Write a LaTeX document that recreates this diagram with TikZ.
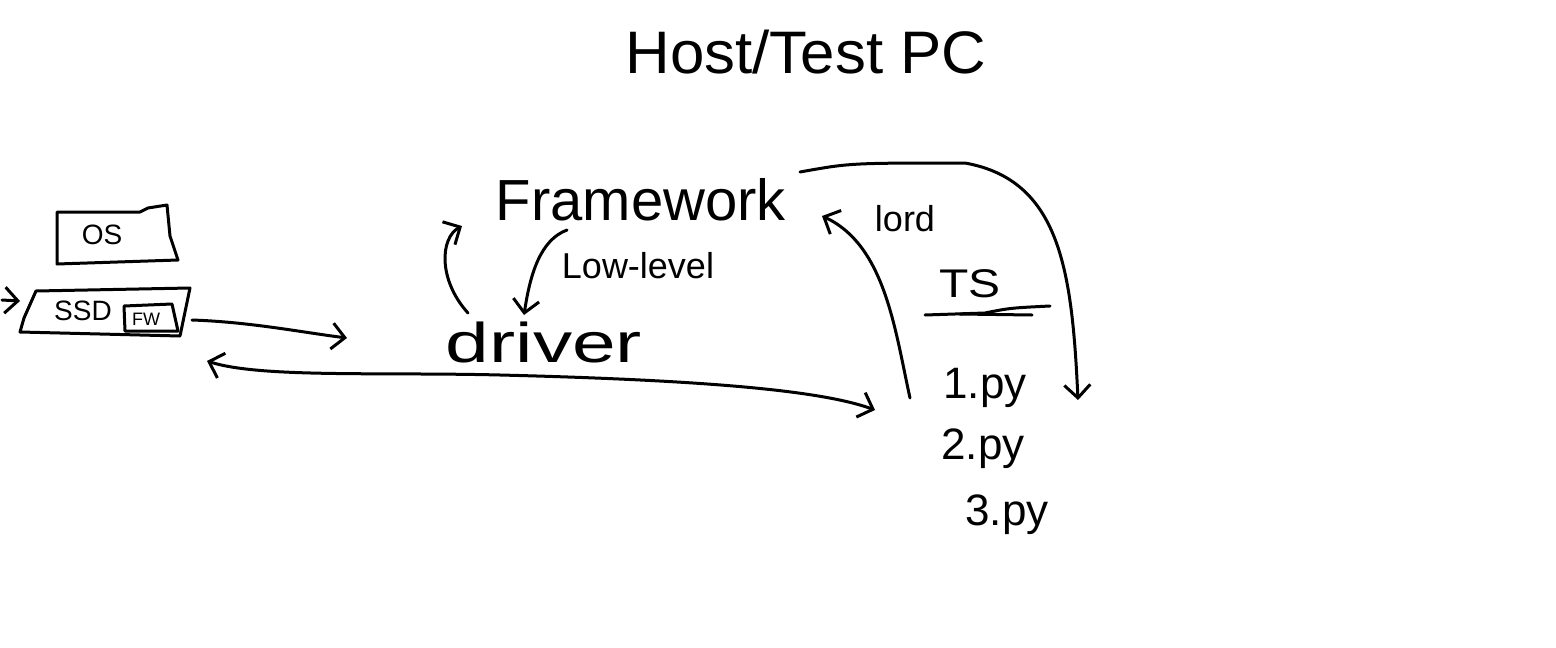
\documentclass[tikz,border=0pt]{standalone}
\usepackage{fontspec}
\setmainfont{Liberation Sans}
\usetikzlibrary{arrows.meta}
\tikzset{
  hand/.style={line width=3pt, line cap=round, line join=round},
  harrow/.style={hand, -{Straight Barb[length=13pt,width=26pt,line width=3pt]}},
  hdarrow/.style={hand, {Straight Barb[length=13pt,width=26pt,line width=3pt]}-{Straight Barb[length=13pt,width=26pt,line width=3pt]}},
  lbl/.style={inner sep=0pt, text=black},
}
\begin{document}
\begin{tikzpicture}[x=1pt,y=-1pt]
\fill[white] (0,0) rectangle (1556,648);
\useasboundingbox (0,0) rectangle (1556,648);

% title
\node[lbl, font=\fontsize{60}{62}\selectfont] (title) at (806,52) {\scalebox{1.03}[1]{Host/Test PC}};

% OS box
\draw[hand] (57,212) -- (57,264) -- (178,260) -- (170,236) -- (167,205) -- (148,208) -- (140,212) -- cycle;
\node[lbl, font=\fontsize{28}{30}\selectfont] (os) at (102,235) {OS};

% SSD box
\draw[hand] (36,291) -- (190,288) -- (180,336) -- (20,332) -- (24,318) -- cycle;
\node[lbl, font=\fontsize{28}{30}\selectfont] (ssd) at (83,311) {SSD};
\draw[hand] (124,306) -- (172,304) -- (178,331) -- (125,331) -- cycle;
\node[lbl, font=\fontsize{18}{20}\selectfont] (fw) at (146,319) {FW};
\coordinate (ssdL) at (20,301);
\coordinate (inL) at (2,300);
\coordinate (ssdR) at (192,320);
\coordinate (outR) at (347,338);
\coordinate (backL) at (207,361);

% framework / driver
\node[lbl, font=\fontsize{58}{60}\selectfont] (fw2) at (641,200) {Framework};
\node[lbl, font=\fontsize{36}{38}\selectfont] (low) at (638,266) {Low-level};
\node[lbl, font=\fontsize{56}{58}\selectfont] (drv) at (544,342) {\scalebox{1.4}[1]{driver}};

% TS
\node[lbl, font=\fontsize{36}{38}\selectfont] (lord) at (905,219) {lord};
\node[lbl, font=\fontsize{40}{42}\selectfont] (ts) at (970,284) {\scalebox{1.2}[1]{TS}};
\draw[hand] (925,315) -- (985,313) .. controls (1010,308) .. (1050,306);
\draw[hand] (960,314) -- (1032,315);
\node[lbl, font=\fontsize{44}{46}\selectfont] (p1) at (985,388) {1.py};
\node[lbl, font=\fontsize{44}{46}\selectfont] (p2) at (983,449) {2.py};
\node[lbl, font=\fontsize{44}{46}\selectfont] (p3) at (1007,515) {3.py};

\coordinate (tsIn) at (875,410);
\coordinate (lordS) at (910,398);
\coordinate (lordE) at (822,216);
\coordinate (bigS) at (800,172);
\coordinate (bigM) at (965,163);
\coordinate (bigE) at (1078,400);
\coordinate (dUp) at (468,313);
\coordinate (fUp) at (462,226);
\coordinate (fDn) at (567,230);
\coordinate (dDn) at (524,315);

% connectors
\draw[harrow] (inL) -- (ssdL);
\draw[harrow] (ssdR) .. controls (250,322) and (300,332) .. (outR);
\draw[hdarrow] (backL) .. controls (260,378) and (380,372) .. (500,375) .. controls (700,380) and (820,390) .. (tsIn);
\draw[harrow] (dUp) .. controls (438,280) and (440,238) .. (fUp);
\draw[harrow] (fDn) .. controls (540,240) and (530,275) .. (dDn);
\draw[harrow] (lordS) .. controls (895,330) and (885,245) .. (lordE);
\draw[harrow] (bigS) .. controls (850,163) .. (bigM) .. controls (1060,180) and (1072,270) .. (bigE);
\end{tikzpicture}
\end{document}
